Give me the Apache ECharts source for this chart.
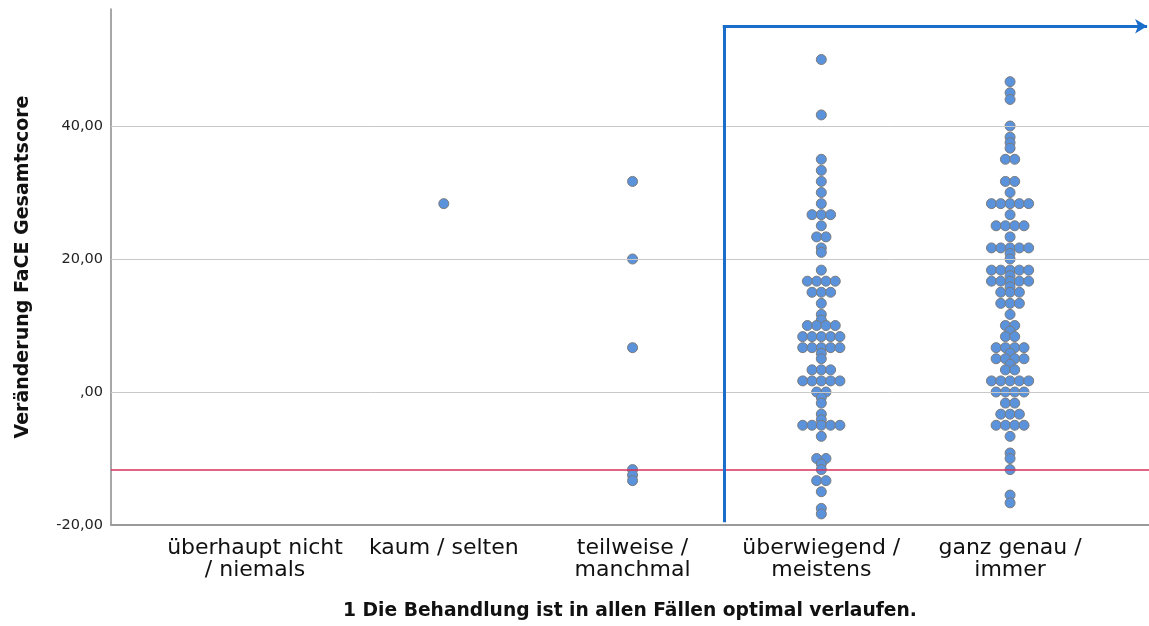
<!DOCTYPE html>
<html>
<head>
<meta charset="utf-8">
<script src="https://cdn.jsdelivr.net/npm/echarts@6/dist/echarts.min.js"></script>
<style>
html, body { margin: 0; padding: 0; background: #fff; }
#chart { width: 1149px; height: 626px; }
</style>
</head>
<body>
<div id="chart"></div>
<script>
// Kategorien der x-Achse
var categories = ['überhaupt nicht\n/ niemals', 'kaum / selten', 'teilweise /\nmanchmal', 'überwiegend /\nmeistens', 'ganz genau /\nimmer'];

// Veränderung FaCE Gesamtscore je Kategorie
var valsNiemals = [];
var valsSelten = [28.33];
var valsManchmal = [31.67, 20, 6.67, -11.67, -12.5, -13.33];
var valsMeistens = [
    50, 41.67, 35, 33.33, 31.67, 30, 28.33, 26.67, 26.67, 26.67, 25, 23.33, 23.33, 21.67, 21,
    18.33, 16.67, 16.67, 16.67, 16.67, 15, 15, 15, 13.33, 11.67, 10.83, 10, 10, 10, 10,
    8.33, 8.33, 8.33, 8.33, 8.33, 6.67, 6.67, 6.67, 6.67, 6.67, 5.83, 5, 3.33, 3.33, 3.33,
    1.67, 1.67, 1.67, 1.67, 1.67, 0, 0, -0.83, -1.67, -3.33, -4.17, -5, -5, -5, -5, -5, -6.67,
    -10, -10, -10.83, -11.67, -13.33, -13.33, -15, -17.5, -18.33
];
var valsImmer = [
    46.67, 45, 44, 40, 38.33, 37.5, 36.67, 35, 35, 31.67, 31.67, 30, 28.33, 28.33, 28.33, 28.33, 28.33,
    26.67, 25, 25, 25, 25, 23.33, 21.67, 21.67, 21.67, 21.67, 21.67, 20.83, 20,
    18.33, 18.33, 18.33, 18.33, 18.33, 17.5, 16.67, 16.67, 16.67, 16.67, 16.67, 15.83, 15, 15, 15,
    13.33, 13.33, 13.33, 11.67, 10, 10, 9.17, 8.33, 8.33, 6.67, 6.67, 6.67, 6.67, 5.83, 5, 5, 5, 5,
    4.17, 3.33, 3.33, 1.67, 1.67, 1.67, 1.67, 1.67, 0, 0, 0, 0, -1.67, -1.67, -3.33, -3.33, -3.33,
    -5, -5, -5, -5, -6.67, -9.17, -10, -11.67, -15.5, -16.67
];

var yTicks = [-20, 0, 20, 40];
var gridVals = [0, 20, 40];
var refLine = -11.67;

var X_MIN = -0.763, X_MAX = 4.736, Y_MIN = -20, Y_MAX = 57.6;
var ARROW_X = 2.485, ARROW_Y = 55;
var DOT_STEP = 9.3;

// Punkte mit gleichem Wert nebeneinander legen
function swarm(ci, vals) {
    var counts = {}, order = [];
    vals.forEach(function (v) {
        if (!counts[v]) { counts[v] = 0; order.push(v); }
        counts[v]++;
    });
    var out = [];
    order.forEach(function (v) {
        var n = counts[v];
        for (var i = 0; i < n; i++) {
            out.push({ value: [ci, v], symbolOffset: [(i - (n - 1) / 2) * DOT_STEP, 0] });
        }
    });
    return out;
}

var allVals = [valsNiemals, valsSelten, valsManchmal, valsMeistens, valsImmer];
var dots = [];
allVals.forEach(function (vals, ci) { dots = dots.concat(swarm(ci, vals)); });

function fmt(v) {
    if (v === 0) return ',00';
    return v.toFixed(2).replace('.', ',');
}

var myChart = echarts.init(document.getElementById('chart'));

var option = {
    animation: false,
    backgroundColor: '#fff',
    textStyle: { fontFamily: 'DejaVu Sans' },
    grid: { left: 111, right: 0, top: 9, bottom: 101, containLabel: false, outerBoundsMode: 'none' },
    xAxis: {
        type: 'value',
        min: X_MIN,
        max: X_MAX,
        name: '1 Die Behandlung ist in allen Fällen optimal verlaufen.',
        nameLocation: 'middle',
        nameGap: 77,
        nameTextStyle: { fontSize: 18.7, fontWeight: 'bold', color: '#111' },
        axisLine: { show: true, onZero: false, lineStyle: { color: '#9a9a9a', width: 2 } },
        axisTick: { show: false },
        splitLine: { show: false },
        axisLabel: {
            customValues: [0, 1, 2, 3, 4],
            formatter: function (v) { return categories[Math.round(v)]; },
            fontSize: 22,
            lineHeight: 22,
            color: '#111',
            margin: 12
        }
    },
    yAxis: {
        type: 'value',
        min: Y_MIN,
        max: Y_MAX,
        name: 'Veränderung FaCE Gesamtscore',
        nameLocation: 'middle',
        nameGap: 78,
        nameTextStyle: { fontSize: 19, fontWeight: 'bold', color: '#111' },
        axisLine: { show: true, onZero: false, lineStyle: { color: '#8a8a8a', width: 1.5 } },
        axisTick: { show: false },
        splitLine: { show: false },
        axisLabel: {
            customValues: yTicks,
            formatter: fmt,
            fontSize: 14.5,
            color: '#222',
            margin: 8
        }
    },
    series: [
        {
            type: 'scatter',
            silent: true,
            data: [],
            markLine: {
                silent: true,
                symbol: 'none',
                label: { show: false },
                lineStyle: { color: '#c8c8c8', width: 1, type: 'solid' },
                data: gridVals.map(function (v) { return { yAxis: v }; })
            }
        },
        {
            type: 'scatter',
            silent: true,
            data: [],
            markLine: {
                silent: true,
                symbol: 'none',
                label: { show: false },
                lineStyle: { color: '#d8305a', width: 1.5, type: 'solid' },
                data: [{ yAxis: refLine }]
            }
        },
        {
            type: 'scatter',
            silent: true,
            symbolSize: 10,
            itemStyle: { color: '#5a92dc', borderColor: '#7b7b7b', borderWidth: 1, opacity: 1 },
            data: dots,
            z: 3
        },
        {
            type: 'scatter',
            silent: true,
            clip: false,
            data: [],
            z: 4,
            markLine: {
                silent: true,
                symbol: 'none',
                symbolSize: [11, 12],
                label: { show: false },
                lineStyle: { color: '#1a6dc8', width: 3, type: 'solid' },
                data: [
                    [{ coord: [ARROW_X, Y_MIN + 0.4], symbol: 'none' }, { coord: [ARROW_X, ARROW_Y], symbol: 'none' }],
                    [{ coord: [ARROW_X - 0.007, ARROW_Y], symbol: 'none' }, { coord: [X_MAX - 0.01, ARROW_Y], symbol: 'arrow' }]
                ]
            }
        }
    ]
};

myChart.setOption(option);
</script>
</body>
</html>
